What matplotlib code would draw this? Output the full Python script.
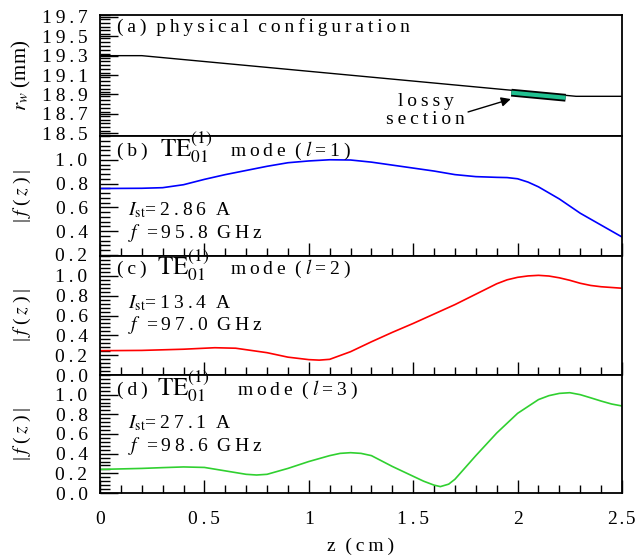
import numpy as np
import matplotlib
matplotlib.use("Agg")
import matplotlib.pyplot as plt
from matplotlib.ticker import MultipleLocator
import matplotlib.patheffects as pe

plt.rcParams['font.family'] = ['Liberation Serif', 'DejaVu Serif']
plt.rcParams['mathtext.fontset'] = 'stix'
plt.rcParams['font.size'] = 14

# (a) wall radius profile
z_wall = [0.0, 0.2, 2.28, 2.5]
r_wall = [19.3, 19.3, 18.88, 18.88]
lossy_z = [1.97, 2.23]

# (b) l=1
z_b = [0.0, 0.2, 0.3, 0.4, 0.5, 0.6, 0.7, 0.8, 0.9, 1.0, 1.1, 1.2, 1.3, 1.4, 1.5,
       1.6, 1.7, 1.8, 1.9, 1.95, 2.0, 2.05, 2.1, 2.2, 2.3, 2.4, 2.5]
f_b = [0.758, 0.760, 0.765, 0.790, 0.835, 0.875, 0.91, 0.945, 0.975, 0.99, 1.0, 0.998,
       0.98, 0.955, 0.93, 0.905, 0.875, 0.858, 0.852, 0.85, 0.84, 0.812, 0.772, 0.67,
       0.55, 0.45, 0.35]

# (c) l=2
z_c = [0.0, 0.2, 0.4, 0.55, 0.65, 0.8, 0.9, 1.0, 1.05, 1.1, 1.2, 1.3, 1.4, 1.5, 1.6,
       1.7, 1.8, 1.9, 1.95, 2.0, 2.05, 2.1, 2.15, 2.2, 2.25, 2.3, 2.35, 2.4, 2.5]
f_c = [0.245, 0.248, 0.26, 0.275, 0.27, 0.225, 0.18, 0.155, 0.15, 0.158, 0.235, 0.335,
       0.43, 0.52, 0.615, 0.71, 0.815, 0.92, 0.96, 0.985, 0.999, 1.005, 0.998, 0.98,
       0.955, 0.925, 0.903, 0.89, 0.875]

# (d) l=3
z_d = [0.0, 0.2, 0.3, 0.4, 0.5, 0.6, 0.7, 0.75, 0.8, 0.9, 1.0, 1.1, 1.15, 1.2, 1.25,
       1.3, 1.4, 1.5, 1.55, 1.6, 1.63, 1.67, 1.7, 1.8, 1.9, 2.0, 2.1, 2.15, 2.2, 2.25,
       2.3, 2.35, 2.4, 2.45, 2.5]
f_d = [0.24, 0.25, 0.258, 0.265, 0.26, 0.225, 0.19, 0.183, 0.19, 0.25, 0.32, 0.38,
       0.403, 0.41, 0.403, 0.38, 0.27, 0.17, 0.12, 0.08, 0.065, 0.09, 0.14, 0.38, 0.61,
       0.81, 0.95, 0.99, 1.013, 1.02, 1.0, 0.968, 0.935, 0.905, 0.885]

labels = ['(b)', '(c)', '(d)']
ells = [1, 2, 3]
i_st = ['2.86', '13.4', '27.1']
freqs = ['95.8', '97.0', '98.6']

TS = '\u2009'  # thin space


def sp(s):
    # spread letters like the original typesetting
    return TS.join(s).replace(TS + ' ' + TS, '  ')


W, H = 635, 557
fig = plt.figure(figsize=(W / 100, H / 100), dpi=100)

# panel limits in pixels (top, bottom)
rows = [(15, 136), (136, 256), (256, 375), (375, 493)]
left, right = 100, 622
axes = []
for top, bot in rows:
    ax = fig.add_axes([left / W, 1 - bot / H, (right - left) / W, (bot - top) / H])
    axes.append(ax)

for ax in axes:
    ax.set_xlim(0, 2.5)
    for s in ax.spines.values():
        s.set_linewidth(1.3)
    ax.tick_params(axis='y', which='major', direction='in', length=13, width=1.0,
                   labelsize=14, right=False, pad=9)
    ax.tick_params(axis='y', which='minor', direction='in', length=7, width=1.0, right=False)
    ax.tick_params(axis='x', which='major', direction='in', length=9.5, width=1.0, top=False)
    ax.tick_params(axis='x', which='minor', direction='in', length=5.5, width=1.0, top=False)
    ax.xaxis.set_major_locator(MultipleLocator(0.5))
    ax.xaxis.set_minor_locator(MultipleLocator(0.1))
    ax.yaxis.set_major_locator(MultipleLocator(0.2))
    ax.yaxis.set_minor_locator(MultipleLocator(0.04))

# (a) physical configuration
ax = axes[0]
ax.plot(z_wall, r_wall, color='black', lw=1.0)
zl = np.array(lossy_z)
ax.plot(zl, np.interp(zl, z_wall, r_wall) - 0.025, color='#20c090', lw=3.0,
        solid_capstyle='butt',
        path_effects=[pe.Stroke(linewidth=5.6, foreground='black', capstyle='butt'), pe.Normal()])
ax.set_ylim(18.47, 19.72)
ax.set_yticks(np.arange(18.5, 19.75, 0.2))
ax.set_yticklabels([sp('%.1f' % v) for v in np.arange(18.5, 19.75, 0.2)])
ax.tick_params(axis='x', which='both', length=0, labelbottom=False)
ax.text(0.033, 0.90, sp('(a) physical configuration'),
        transform=ax.transAxes, va='center', ha='left', fontsize=14)
ax.annotate('', xy=(1.98, 18.86), xytext=(1.75, 18.71),
            arrowprops=dict(arrowstyle='-|>', color='black', lw=1.0, mutation_scale=14))
ax.text(1.56, 18.73, sp('lossy') + '\n' + sp('section'), ha='center', va='center',
        fontsize=14, linespacing=1.1)
ax.set_ylabel(r'$r_w$ (mm)', fontsize=15)

# (b)-(d) mode profiles
curves = [(z_b, f_b, '#0000ff'), (z_c, f_c, '#ff0000'), (z_d, f_d, '#30d030')]
title_y = [0.833, 0.849, 0.83]
ist_y = [0.342, 0.563, 0.55]
freq_y = [0.15, 0.378, 0.36]
te_x = [0.115, 0.11, 0.109]
mode_x = [0.249, 0.249, 0.262]
for k, ax in enumerate(axes[1:]):
    z, f, c = curves[k]
    ax.plot(z, f, color=c, lw=1.2)
    if k == 0:
        ax.set_ylim(0.19, 1.2)
        yt = np.arange(0.2, 1.05, 0.2)
    else:
        ax.set_ylim(0.0, 1.2)
        yt = np.arange(0.0, 1.05, 0.2)
    ax.set_yticks(yt)
    ax.set_yticklabels([sp('%.1f' % v) for v in yt])
    tr = ax.transAxes
    ax.text(0.033, title_y[k], sp(labels[k]), transform=tr, va='baseline', fontsize=14)
    ax.text(te_x[k], title_y[k], r'$\mathrm{TE}_{01}^{(1)}$', transform=tr,
            va='baseline', fontsize=18)
    ax.text(mode_x[k], title_y[k], sp('mode') + '  (' + TS + '$l$' + TS + '=' + TS
            + str(ells[k]) + TS + ')', transform=tr, va='baseline', fontsize=14)
    ax.text(0.054, ist_y[k], r'$I$' + r'$_{\rm st}$' + '=' + TS + sp(i_st[k]) + '  A',
            transform=tr, va='baseline', fontsize=14)
    ax.text(0.054, freq_y[k], r'$f$' + '  =' + TS + sp(freqs[k]) + '  ' + sp('GHz'),
            transform=tr, va='baseline', fontsize=14)
    ax.set_ylabel('|' + TS + '$f$' + TS + '(' + TS + '$z$' + TS + ')' + TS + '|', fontsize=14)
    if k < 2:
        ax.tick_params(axis='x', labelbottom=False)

axes[-1].set_xticks([0, 0.5, 1, 1.5, 2, 2.5])
axes[-1].set_xticklabels(['0', sp('0.5'), '1', sp('1.5'), '2', '2\u200a.\u200a5'], fontsize=14)
axes[-1].tick_params(axis='x', pad=13)
axes[-1].set_xlabel('z  (' + TS + sp('cm') + TS + ')', fontsize=14, labelpad=7)

for ax in axes:
    ax.yaxis.set_label_coords(-0.128, 0.5)

plt.savefig('out.png', dpi=100)
